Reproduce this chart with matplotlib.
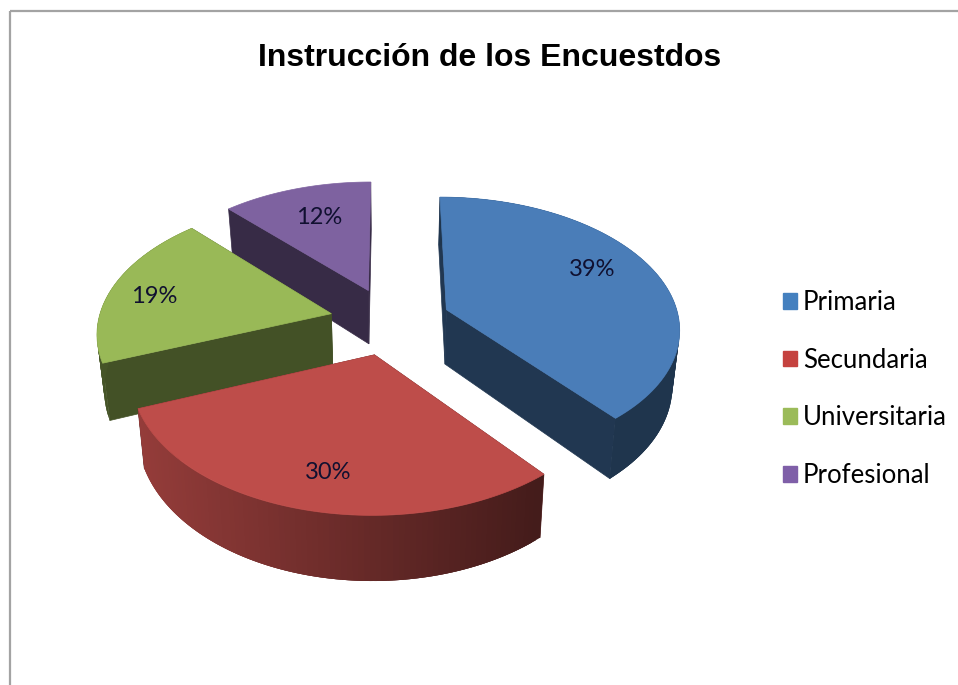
import numpy as np
import matplotlib
matplotlib.use("Agg")
import matplotlib.pyplot as plt
from matplotlib.patches import Polygon, Patch, Rectangle

# --- data ---
categories = ["Primaria", "Secundaria", "Universitaria", "Profesional"]
shares = [39, 30, 19, 12]
pct_labels = ["39%", "30%", "19%", "12%"]
title = "Instrucción de los Encuestdos"
top_colors = ["#4A7DB8", "#BE4D4A", "#99B957", "#7E62A0"]
legend_colors = ["#4480BF", "#C5423F", "#9BBB59", "#7F5FA8"]

# --- view of the tilted pie (pixels) ---
W, H = 958, 685
CX, CY, RX, RY = 390.0, 321.0, 233.0, 130.0
PERSP, DEPTH, CONV, EXPLODE = 0.13, 55.0, 0.975, 0.26


def project(X, Y, bottom=False):
    w = 1.0 / (1.0 - PERSP * np.asarray(Y, float))
    sx = RX * np.asarray(X, float) * w
    sy = RY * np.asarray(Y, float) * w
    if bottom:
        sx = sx * CONV
        sy = sy + DEPTH * w
    return CX + sx, CY + sy


def darken(color, f):
    r = np.array(matplotlib.colors.to_rgb(color)) * f
    return tuple(np.clip(r, 0, 1))


fig = plt.figure(figsize=(W / 100, H / 100), dpi=100, facecolor="white")
ax = fig.add_axes([0, 0, 1, 1])
ax.set_xlim(0, W)
ax.set_ylim(H, 0)
ax.axis("off")

ax.add_patch(Rectangle((10, 11), W + 20, H + 20, fill=False, ec="#a3a3a3", lw=1.6, zorder=0))

fractions = np.array(shares, float) / sum(shares)
edges = np.concatenate([[0], np.cumsum(fractions)]) * 2 * np.pi

draw_order = [3, 2, 0, 1]
z = 1
for i in draw_order:
    a0, a1 = edges[i], edges[i + 1]
    mid = (a0 + a1) / 2
    ex, ey = EXPLODE * np.sin(mid), -EXPLODE * np.cos(mid)
    t = np.linspace(a0, a1, 90)
    X = ex + np.sin(t)
    Y = ey - np.cos(t)
    col = top_colors[i]

    # radial side faces
    ax_, ay_ = project(ex, ey)
    bx_, by_ = project(ex, ey, bottom=True)
    for k in (0, -1):
        px, py = project(X[k], Y[k])
        qx, qy = project(X[k], Y[k], bottom=True)
        ax.add_patch(Polygon([(ax_, ay_), (px, py), (qx, qy), (bx_, by_)],
                             closed=True, fc=darken(col, 0.44), ec=darken(col, 0.44),
                             lw=0.5, zorder=z))
    z += 1

    # outer rim: overlapping shaded strips, brighter to the left, darker to the right
    tx, ty = project(X, Y)
    ux, uy = project(X, Y, bottom=True)
    for j in range(len(t) - 1):
        if i == 3:
            continue
        s = np.clip((tx[j] - 140) / 400.0, 0, 1)
        f = 0.78 - 0.42 * s
        if i == 0:
            f = 0.42
        if i == 2:
            f = 0.46
        shade = darken(col, f)
        j2 = min(j + 3, len(t) - 1)
        ax.add_patch(Polygon([(tx[j], ty[j]), (tx[j2], ty[j2]),
                              (ux[j2], uy[j2]), (ux[j], uy[j])],
                             closed=True, fc=shade, ec="none", zorder=z))
    z += 1

    # top face
    pts = [(ax_, ay_)] + list(zip(tx, ty))
    ax.add_patch(Polygon(pts, closed=True, fc=col, ec=col, lw=0.5, zorder=z))
    z += 1

# percentage labels
label_font = dict(family="Lato", fontsize=17, color="#101030", ha="center", va="center", zorder=z)
for text, (lx, ly) in zip(pct_labels, [(592, 269), (328, 472), (154, 296), (319, 217)]):
    ax.text(lx, ly, text, **label_font)

ax.text(489.5, 58, title, family="Liberation Sans", fontweight="bold",
        fontsize=23, color="black", ha="center", va="center", zorder=z)

handles = [Patch(fc=c, ec=c) for c in legend_colors]
leg = ax.legend(handles, categories, loc="center left", bbox_to_anchor=(783 / W, 1 - 389 / H),
                bbox_transform=ax.transAxes, frameon=False,
                prop=dict(family="Lato", size=18.5), handlelength=0.55, handleheight=0.55,
                handletextpad=0.22, labelspacing=1.27, borderpad=0, borderaxespad=0)
leg.set_zorder(z)

fig.savefig("out.png", dpi=100, facecolor="white")
